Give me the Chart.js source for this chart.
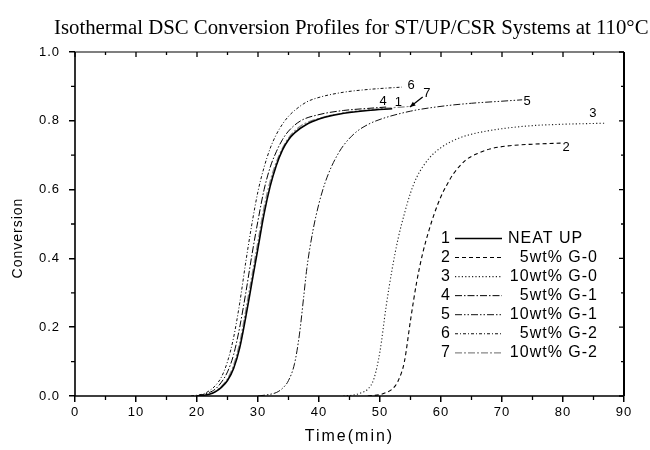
<!DOCTYPE html>
<html><head><meta charset="utf-8">
<script src="https://cdn.jsdelivr.net/npm/chart.js@4.4.0/dist/chart.umd.min.js"></script>
<style>html,body{margin:0;padding:0;background:#fff}#wrap{width:650px;height:450px}</style>
</head><body><div id="wrap"><canvas id="c" width="650" height="450"></canvas></div>
<script>
// ---- data ----
const seriesNames = ['NEAT UP','5wt% G-0','10wt% G-0','5wt% G-1','10wt% G-1','5wt% G-2','10wt% G-2'];
const xTicks = [0,10,20,30,40,50,60,70,80,90];
const yTicks = [0.0,0.2,0.4,0.6,0.8,1.0];

const time1 = [20,22,23,24,25,26,27,28,29,30,31,32,33,34,35,36,38,40,42,45,48,52];
const conv1 = [0,0.005,0.012,0.025,0.045,0.08,0.14,0.23,0.33,0.43,0.53,0.61,0.67,0.715,0.745,0.765,0.79,0.805,0.815,0.824,0.83,0.835];

const time2 = [48,50,51,52,53,54,55,56,57,58,59,60,61,62,64,66,68,71,75,79.6];
const conv2 = [0,0.004,0.01,0.02,0.045,0.1,0.22,0.33,0.415,0.48,0.535,0.58,0.615,0.645,0.685,0.705,0.718,0.727,0.732,0.735];

const time3 = [44,46,47,48,49,50,51,52,53,54,55,56,58,60,63,66,70,75,80,87];
const conv3 = [0,0.004,0.01,0.02,0.05,0.13,0.26,0.37,0.46,0.53,0.59,0.635,0.69,0.722,0.75,0.765,0.777,0.786,0.79,0.793];

const time4 = [20,21,22,23,24,25,26,27,28,29,30,31,32,33,34,35,37,40,44,48,51];
const conv4 = [0,0.004,0.01,0.02,0.04,0.07,0.12,0.2,0.3,0.41,0.51,0.6,0.665,0.71,0.745,0.77,0.8,0.818,0.83,0.836,0.84];

const time5 = [30,32,33,34,35,36,36.8,37.5,38,39,40,41,42,43,44,46,48,50,55,60,65,70,73.3];
const conv5 = [0,0.005,0.01,0.022,0.045,0.095,0.18,0.29,0.37,0.48,0.56,0.62,0.665,0.7,0.728,0.766,0.789,0.804,0.828,0.842,0.851,0.857,0.861];

const time6 = [19,21,22,23,24,25,26,27,28,29,30,31,32,33,34,35,36,38,40,44,48,53.6];
const conv6 = [0,0.006,0.015,0.03,0.055,0.1,0.17,0.27,0.39,0.5,0.595,0.665,0.72,0.76,0.79,0.813,0.83,0.855,0.868,0.883,0.891,0.898];

const time7 = [20,22,23,24,25,26,27,28,29,30,31,32,33,34,35,37,40,44,48,52,55];
const conv7 = [0,0.006,0.014,0.028,0.05,0.09,0.155,0.25,0.35,0.45,0.55,0.625,0.68,0.72,0.75,0.785,0.807,0.823,0.832,0.838,0.842];

// curve-end number labels (data coordinates)
const labelText = ['1','2','3','4','5','6','7'];
const labelTime = [53.0,80.5,84.9,50.5,74.1,55.1,57.7];
const labelConv = [0.852,0.724,0.82,0.855,0.855,0.904,0.881];
// arrow from label 7 to its curve (data coordinates)
const arrowTime = [57.0,54.9];
const arrowConv = [0.869,0.840];

const titleText = 'Isothermal DSC Conversion Profiles for ST/UP/CSR Systems at 110\u00B0C';
const xTitle = 'Time(min)';
const yTitle = 'Conversion';

// ---- styles ----
const styles = [
  {c:'#000', w:1.6, d:[]},
  {c:'#000', w:1.1, d:[4,3]},
  {c:'#222', w:1.1, d:[1.2,2.2]},
  {c:'#000', w:1.0, d:[7,2,1.5,2]},
  {c:'#111', w:1.0, d:[7,2,1.5,2,1.5,2]},
  {c:'#111', w:1.0, d:[3,2,1,2]},
  {c:'#888', w:1.2, d:[7,2,2,2]}
];
const times = [time1,time2,time3,time4,time5,time6,time7];
const convs = [conv1,conv2,conv3,conv4,conv5,conv6,conv7];

const datasets = seriesNames.map((n,i)=>({
  label:n,
  data: times[i].map((t,k)=>({x:t,y:convs[i][k]})),
  borderColor: styles[i].c,
  borderWidth: styles[i].w,
  borderDash: styles[i].d,
  pointRadius:0,
  fill:false,
  cubicInterpolationMode:'monotone'
}));

const SANS = '"Liberation Sans", Arial, sans-serif';

const decor = {
  id:'decor',
  beforeDraw(chart){
    chart.ctx.letterSpacing = '1px';
  },
  afterDraw(chart){
    const ctx = chart.ctx, a = chart.chartArea;
    const xs = chart.scales.x, ys = chart.scales.y;
    ctx.save();
    ctx.letterSpacing = '0px';
    ctx.setLineDash([]);
    ctx.strokeStyle = '#000';
    // frame
    ctx.lineWidth = 1.6;
    ctx.beginPath();
    ctx.moveTo(a.left, a.top); ctx.lineTo(a.left, a.bottom); ctx.lineTo(a.right, a.bottom);
    ctx.stroke();
    ctx.lineWidth = 2;
    ctx.beginPath(); ctx.moveTo(a.right, a.bottom); ctx.lineTo(a.right, a.top); ctx.stroke();
    ctx.lineWidth = 1.2;
    ctx.beginPath(); ctx.moveTo(a.left, a.top); ctx.lineTo(a.right, a.top); ctx.stroke();
    // minor ticks & inner ticks
    ctx.lineWidth = 1.3;
    ctx.beginPath();
    for (let t=5; t<90; t+=10){
      const px = xs.getPixelForValue(t);
      ctx.moveTo(px, a.bottom); ctx.lineTo(px, a.bottom+4);
      ctx.moveTo(px, a.top); ctx.lineTo(px, a.top+3);
    }
    xTicks.forEach(t=>{ const px = xs.getPixelForValue(t); ctx.moveTo(px,a.top); ctx.lineTo(px,a.top+5); });
    for (let k=1; k<10; k+=2){
      const py = ys.getPixelForValue(k/10);
      ctx.moveTo(a.left, py); ctx.lineTo(a.left-4, py);
      ctx.moveTo(a.right, py); ctx.lineTo(a.right-3, py);
    }
    yTicks.forEach(v=>{ const py = ys.getPixelForValue(v); ctx.moveTo(a.right,py); ctx.lineTo(a.right-5,py); });
    ctx.stroke();

    // curve labels
    ctx.fillStyle = '#000';
    ctx.font = '13px ' + SANS;
    ctx.textAlign = 'center'; ctx.textBaseline = 'middle';
    labelText.forEach((s,i)=>{
      ctx.fillText(s, xs.getPixelForValue(labelTime[i]), ys.getPixelForValue(labelConv[i]));
    });
    // arrow
    const ax0 = xs.getPixelForValue(arrowTime[0]), ay0 = ys.getPixelForValue(arrowConv[0]);
    const ax1 = xs.getPixelForValue(arrowTime[1]), ay1 = ys.getPixelForValue(arrowConv[1]);
    ctx.lineWidth = 1.3;
    ctx.beginPath(); ctx.moveTo(ax0,ay0); ctx.lineTo(ax1,ay1); ctx.stroke();
    const ang = Math.atan2(ay1-ay0, ax1-ax0);
    ctx.beginPath();
    ctx.moveTo(ax1,ay1);
    ctx.lineTo(ax1-6*Math.cos(ang-0.4), ay1-6*Math.sin(ang-0.4));
    ctx.lineTo(ax1-6*Math.cos(ang+0.4), ay1-6*Math.sin(ang+0.4));
    ctx.closePath(); ctx.fill();

    // legend
    ctx.font = '16px ' + SANS;
    ctx.letterSpacing = '1px';
    seriesNames.forEach((n,i)=>{
      const y = 238.5 + 19.05*i;
      ctx.textAlign = 'center'; ctx.textBaseline = 'middle';
      ctx.fillStyle = '#000';
      ctx.fillText(String(i+1), 446, y);
      ctx.save();
      ctx.strokeStyle = styles[i].c; ctx.lineWidth = styles[i].w; ctx.setLineDash(styles[i].d);
      ctx.beginPath(); ctx.moveTo(455, y); ctx.lineTo(502, y); ctx.stroke();
      ctx.restore();
      if (i===0){ ctx.textAlign='left'; ctx.fillText(n, 508, y); }
      else { ctx.textAlign='right'; ctx.fillText(n, 598, y); }
    });

    // axis titles
    ctx.font = '16px ' + SANS;
    ctx.letterSpacing = '2px';
    ctx.textAlign = 'center'; ctx.textBaseline = 'middle';
    ctx.fillText(xTitle, (a.left+a.right)/2, 437);
    ctx.save();
    ctx.translate(18, 238); ctx.rotate(-Math.PI/2);
    ctx.font = '14px ' + SANS; ctx.letterSpacing = '1px';
    ctx.fillText(yTitle, 0, 0);
    ctx.restore();

    // title
    ctx.letterSpacing = '0px';
    ctx.font = '20.8px "Liberation Serif", "Times New Roman", serif';
    ctx.textAlign = 'left'; ctx.textBaseline = 'alphabetic';
    ctx.fillText(titleText, 54, 34);
    ctx.restore();
  }
};

new Chart(document.getElementById('c'), {
  type:'line',
  data:{datasets},
  options:{
    responsive:false, animation:false, devicePixelRatio:1,
    layout:{padding:{top:52,right:26,left:0,bottom:0}},
    plugins:{legend:{display:false}, tooltip:{enabled:false}, title:{display:false}},
    scales:{
      x:{type:'linear', min:0, max:90,
        afterBuildTicks(s){ s.ticks = xTicks.map(v=>({value:v})); },
        afterFit(s){ s.height = 54; },
        ticks:{color:'#000', font:{family:SANS,size:13}, padding:3, maxRotation:0, autoSkip:false},
        grid:{display:true, drawOnChartArea:false, drawTicks:true, tickLength:6, color:'#000', lineWidth:1.5},
        border:{display:false}
      },
      y:{type:'linear', min:0, max:1,
        afterBuildTicks(s){ s.ticks = yTicks.map(v=>({value:v})); },
        afterFit(s){ s.width = 75; },
        ticks:{color:'#000', font:{family:SANS,size:13}, padding:9, callback:v=>Number(v).toFixed(1)},
        grid:{display:true, drawOnChartArea:false, drawTicks:true, tickLength:6, color:'#000', lineWidth:1.5},
        border:{display:false}
      }
    }
  },
  plugins:[decor]
});
</script>
</body></html>
